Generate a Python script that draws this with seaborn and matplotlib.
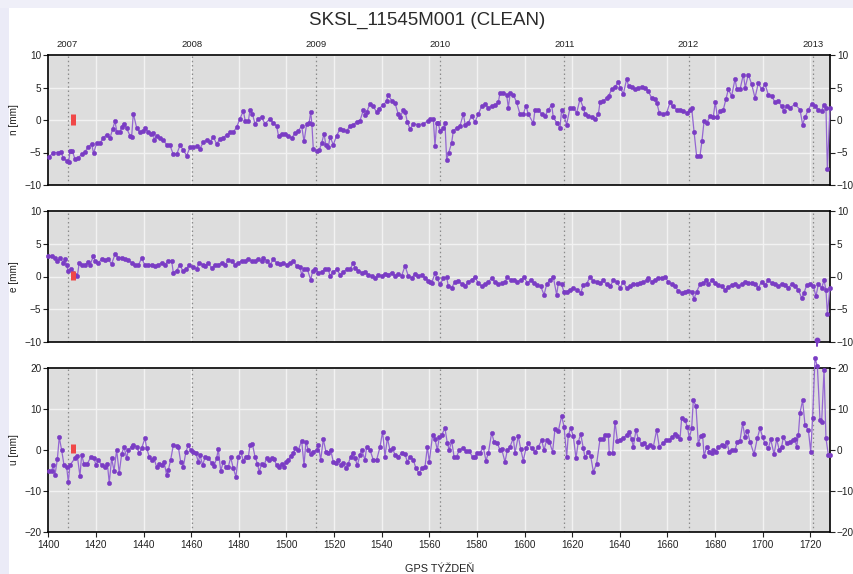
import numpy as np
import pandas as pd
import matplotlib
matplotlib.use("Agg")
import matplotlib.pyplot as plt
from matplotlib.patches import Rectangle
import seaborn as sns

# ---- station time series (GPS week, displacement in mm) ----
n_weeks = [1400.3, 1402.1, 1404.2, 1405.2, 1406.3, 1407.7, 1408.5, 1409.2, 1410.1, 1411.2, 1412.3, 1414.0,
           1415.4, 1416.8, 1418.2, 1419.0, 1420.3, 1421.7, 1423.1, 1424.5, 1425.9, 1427.0, 1428.0, 1428.8,
           1430.1, 1430.9, 1431.6, 1432.9, 1434.3, 1435.0, 1435.7, 1437.1, 1438.5, 1439.9, 1440.7, 1442.0,
           1443.0, 1444.1, 1444.5, 1445.5, 1446.9, 1448.3, 1449.7, 1451.1, 1452.5, 1453.9, 1455.3, 1456.7,
           1458.1, 1459.5, 1460.9, 1462.3, 1463.7, 1465.1, 1466.5, 1467.9, 1469.3, 1470.7, 1472.1, 1473.5,
           1474.9, 1476.3, 1477.7, 1479.1, 1480.5, 1481.9, 1482.7, 1484.0, 1484.7, 1485.7, 1486.8, 1488.2,
           1489.6, 1491.0, 1493.1, 1494.5, 1495.9, 1496.7, 1498.0, 1499.4, 1500.8, 1502.2, 1503.6, 1505.0,
           1506.4, 1507.4, 1508.5, 1509.5, 1510.2, 1510.7, 1511.3, 1512.7, 1513.8, 1514.8, 1515.8, 1516.6,
           1517.6, 1518.3, 1519.7, 1521.1, 1522.5, 1523.9, 1525.3, 1526.7, 1528.1, 1529.5, 1530.9, 1532.3,
           1533.0, 1533.7, 1535.1, 1536.5, 1537.9, 1538.7, 1540.7, 1542.1, 1542.7, 1544.2, 1545.6, 1547.0,
           1547.7, 1549.1, 1549.9, 1550.8, 1551.9, 1553.3, 1555.4, 1557.5, 1559.6, 1560.3, 1561.7, 1562.4,
           1563.1, 1563.8, 1564.5, 1565.9, 1566.6, 1567.3, 1568.1, 1569.4, 1570.1, 1571.5, 1572.9, 1574.3,
           1575.1, 1576.4, 1577.8, 1579.2, 1580.6, 1582.0, 1583.4, 1584.8, 1586.2, 1587.6, 1589.0, 1589.7,
           1591.1, 1592.5, 1593.2, 1594.0, 1595.3, 1596.7, 1598.1, 1599.5, 1600.6, 1601.6, 1603.7, 1604.4,
           1605.8, 1607.2, 1608.6, 1610.0, 1611.4, 1612.1, 1613.5, 1614.9, 1615.6, 1616.6, 1617.7, 1619.1,
           1620.5, 1621.9, 1623.3, 1624.7, 1625.4, 1626.8, 1628.2, 1629.6, 1631.0, 1631.7, 1633.1, 1634.5,
           1635.3, 1636.6, 1638.0, 1639.4, 1640.2, 1641.5, 1642.9, 1643.7, 1645.0, 1646.4, 1647.8, 1649.2,
           1650.6, 1652.0, 1653.4, 1654.8, 1655.6, 1656.6, 1658.0, 1659.7, 1661.1, 1662.2, 1663.9, 1665.3,
           1666.7, 1668.1, 1669.5, 1670.2, 1671.2, 1672.3, 1673.7, 1674.5, 1675.4, 1676.5, 1677.9, 1679.3,
           1680.1, 1681.0, 1682.1, 1683.5, 1684.6, 1685.6, 1687.0, 1688.4, 1689.2, 1690.5, 1691.9, 1692.7,
           1694.0, 1695.4, 1696.8, 1698.2, 1699.6, 1701.0, 1702.4, 1703.8, 1705.2, 1706.6, 1708.0, 1708.8,
           1710.1, 1711.5, 1713.6, 1715.7, 1716.8, 1717.8, 1719.2, 1720.6, 1722.0, 1723.4, 1724.8, 1725.6,
           1726.6, 1727.2, 1728.3]
n_mm = [-5.7, -5.0, -5.0, -4.9, -5.8, -6.3, -6.5, -4.7, -4.8, -6.0, -5.9, -5.3,
        -4.9, -4.1, -3.7, -5.1, -3.6, -3.6, -2.7, -2.3, -2.8, -1.4, -0.2, -1.8,
        -1.8, -1.0, -0.6, -1.3, -2.4, -2.6, 1.0, -1.2, -1.9, -1.7, -1.3, -1.9,
        -2.1, -2.0, -3.1, -2.4, -2.7, -3.1, -3.8, -3.9, -5.3, -5.3, -3.9, -4.6,
        -5.5, -4.2, -4.2, -4.0, -4.4, -3.4, -3.1, -3.4, -2.6, -3.7, -2.9, -2.7,
        -2.3, -1.9, -1.9, -1.1, 0.2, 1.4, -0.1, -0.2, 1.5, 1.0, -0.6, 0.2,
        0.4, -0.6, 0.2, -0.5, -0.9, -2.5, -2.1, -2.1, -2.4, -2.8, -2.0, -1.7,
        -0.9, -3.3, -0.6, -0.5, 1.2, -0.6, -4.5, -4.7, -4.6, -3.6, -2.1, -3.9,
        -4.2, -2.6, -3.8, -2.4, -1.4, -1.5, -1.7, -0.9, -0.7, -0.3, -0.1, 1.5,
        0.7, 1.2, 2.5, 2.1, 1.2, 1.7, 2.3, 2.9, 3.9, 3.0, 2.6, 0.9,
        0.4, 1.5, 1.2, -0.3, -1.4, -0.6, -0.7, -0.6, -0.1, 0.1, 0.2, -4.0,
        -0.4, -0.5, -1.7, -1.2, -0.5, -6.1, -5.1, -3.5, -1.7, -1.2, -0.9, 0.9,
        -0.7, -0.4, 0.6, -0.3, 0.9, 2.1, 2.4, 1.9, 2.1, 2.3, 2.7, 4.2,
        4.2, 3.9, 1.9, 4.1, 3.9, 2.7, 0.9, 0.9, 2.2, 0.9, -0.5, 1.6,
        1.6, 0.9, 0.6, 1.6, 2.3, 0.4, -0.4, -1.2, 1.6, 0.6, -0.7, 1.9,
        1.9, 1.1, 3.2, 1.9, 0.9, 0.6, 0.4, 0.1, 0.9, 2.7, 2.9, 3.4,
        3.7, 4.7, 5.1, 5.8, 5.0, 4.0, 6.3, 5.2, 5.1, 4.7, 5.0, 5.1,
        5.0, 4.4, 3.4, 3.2, 2.6, 1.1, 0.9, 1.1, 2.7, 2.1, 1.6, 1.6,
        1.4, 1.1, 1.6, 1.9, -1.8, -5.6, -5.5, -3.3, -0.2, -0.5, 0.6, 0.5,
        2.8, 0.4, 1.4, 1.6, 3.2, 4.7, 3.7, 6.3, 4.7, 4.7, 7.0, 5.0,
        7.0, 5.5, 3.4, 5.7, 4.7, 5.5, 3.9, 3.7, 2.7, 2.9, 2.1, 1.4,
        2.1, 1.9, 2.4, 1.6, -0.7, 0.4, 1.6, 2.5, 2.1, 1.6, 1.4, 2.3,
        1.9, -7.6, 1.9]

e_weeks = [1400.0, 1401.4, 1402.8, 1403.8, 1404.9, 1406.3, 1407.0, 1407.7, 1408.4, 1409.4, 1410.2, 1411.2,
           1412.2, 1413.0, 1414.0, 1415.4, 1416.8, 1417.5, 1418.9, 1419.6, 1421.0, 1422.4, 1423.8, 1425.2,
           1426.6, 1428.0, 1429.4, 1430.8, 1432.2, 1433.6, 1435.0, 1436.4, 1437.8, 1439.2, 1440.6, 1442.0,
           1443.4, 1444.8, 1446.2, 1447.6, 1449.0, 1450.4, 1451.8, 1452.5, 1453.9, 1455.3, 1456.4, 1457.8,
           1459.2, 1460.6, 1462.3, 1463.4, 1464.8, 1465.8, 1467.2, 1468.6, 1470.0, 1471.4, 1472.8, 1474.2,
           1475.6, 1477.0, 1478.4, 1479.8, 1481.2, 1482.6, 1484.0, 1485.4, 1486.8, 1488.2, 1489.6, 1490.3,
           1491.7, 1493.1, 1494.5, 1495.9, 1497.3, 1498.7, 1500.1, 1501.5, 1502.9, 1504.3, 1505.7, 1506.4,
           1507.4, 1508.8, 1510.2, 1511.0, 1512.0, 1513.4, 1514.8, 1516.2, 1517.6, 1518.3, 1519.7, 1521.1,
           1522.5, 1523.9, 1525.3, 1526.7, 1528.1, 1528.8, 1530.2, 1531.6, 1533.0, 1534.4, 1535.8, 1537.2,
           1538.6, 1540.0, 1541.4, 1542.8, 1544.2, 1545.6, 1547.0, 1548.4, 1549.8, 1551.2, 1552.6, 1554.0,
           1555.4, 1556.8, 1558.2, 1559.6, 1560.3, 1561.0, 1562.4, 1563.1, 1564.5, 1565.9, 1567.3, 1568.0,
           1569.4, 1570.8, 1572.2, 1573.6, 1575.0, 1576.4, 1577.8, 1579.2, 1580.6, 1582.0, 1583.4, 1584.8,
           1586.2, 1587.6, 1589.0, 1590.4, 1591.8, 1592.8, 1594.2, 1595.6, 1597.0, 1598.4, 1599.8, 1601.2,
           1602.6, 1604.0, 1605.4, 1606.8, 1608.2, 1609.3, 1610.7, 1612.1, 1613.5, 1614.2, 1615.6, 1616.6,
           1617.7, 1619.1, 1620.5, 1621.9, 1623.6, 1624.7, 1626.1, 1627.5, 1628.9, 1630.3, 1631.7, 1633.1,
           1634.5, 1635.9, 1637.3, 1638.7, 1640.1, 1641.5, 1642.9, 1644.3, 1645.7, 1647.1, 1648.5, 1649.9,
           1651.3, 1652.0, 1653.4, 1654.8, 1656.2, 1657.6, 1659.0, 1660.4, 1661.8, 1663.2, 1664.6, 1666.0,
           1667.4, 1668.8, 1670.2, 1671.2, 1672.3, 1673.7, 1675.1, 1676.2, 1677.2, 1678.6, 1680.0, 1681.4,
           1682.8, 1684.2, 1685.6, 1687.0, 1688.4, 1689.8, 1691.2, 1692.6, 1694.0, 1695.4, 1696.8, 1698.2,
           1699.6, 1701.0, 1702.4, 1703.8, 1705.2, 1706.6, 1708.0, 1709.4, 1710.8, 1712.2, 1713.6, 1715.0,
           1716.4, 1717.4, 1718.5, 1719.9, 1721.3, 1722.4, 1723.4, 1724.8, 1725.8, 1726.6, 1727.2, 1728.3]
e_mm = [3.1, 3.1, 2.9, 2.4, 2.9, 2.1, 2.6, 1.7, 0.8, 1.1, 0.6, 0.2,
        0.1, 2.1, 1.8, 1.8, 2.2, 1.7, 3.1, 2.4, 2.1, 2.6, 2.5, 2.6,
        1.9, 3.4, 2.9, 2.9, 2.6, 2.5, 2.1, 1.8, 1.7, 2.8, 1.7, 1.8,
        1.7, 1.6, 1.8, 2.1, 1.8, 2.4, 2.4, 0.6, 0.9, 1.8, 0.9, 1.1,
        1.7, 1.4, 1.2, 2.1, 1.8, 1.6, 2.1, 1.3, 1.8, 1.8, 2.1, 1.7,
        2.5, 2.4, 1.8, 2.1, 2.4, 2.4, 2.6, 2.4, 2.4, 2.6, 2.3, 2.9,
        2.4, 1.8, 2.6, 2.1, 1.9, 2.1, 1.8, 2.1, 2.4, 1.6, 1.4, 0.3,
        1.1, 1.1, -0.5, 0.8, 1.1, 0.6, 0.7, 1.2, 1.1, 0.1, 0.7, 1.1,
        0.3, 0.7, 1.1, 1.1, 2.1, 1.3, 0.9, 0.6, 0.7, 0.3, 0.1, -0.2,
        0.3, 0.1, 0.4, 0.3, 0.6, 0.1, 0.4, 0.1, 1.6, 0.1, -0.2, 0.4,
        0.1, 0.3, -0.2, -0.7, -0.8, -1.0, 0.5, -0.2, -1.2, -0.3, -0.1, -1.5,
        -1.7, -0.8, -0.7, -1.1, -1.5, -0.8, -0.5, -0.1, -1.0, -1.5, -1.2, -0.8,
        -0.3, -0.8, -1.2, -1.0, -0.8, -0.1, -0.5, -0.5, -0.8, -0.5, -0.1, -1.0,
        -0.6, -1.0, -1.3, -1.5, -2.8, -1.2, -0.5, -0.1, -2.8, -1.0, -1.2, -2.4,
        -2.3, -2.0, -1.8, -2.0, -2.5, -1.3, -1.1, -0.1, -0.7, -0.8, -1.0, -0.6,
        -1.2, -1.5, -0.6, -0.8, -1.7, -0.8, -1.8, -1.5, -1.1, -1.1, -1.0, -0.8,
        -0.6, -0.2, -0.8, -0.5, -0.3, -0.2, -0.1, -0.8, -1.2, -1.5, -2.2, -2.5,
        -2.3, -2.2, -2.3, -3.4, -2.3, -1.2, -1.0, -0.5, -1.2, -0.6, -1.0, -1.3,
        -1.5, -2.0, -1.6, -1.3, -1.2, -1.5, -1.2, -0.8, -1.0, -1.0, -1.1, -1.7,
        -0.8, -1.3, -0.6, -1.0, -1.2, -1.5, -1.1, -1.3, -1.7, -1.2, -1.5, -2.0,
        -3.3, -2.5, -1.3, -1.2, -1.5, -3.0, -1.2, -1.7, -0.6, -2.0, -5.7, -1.7]
# isolated outlier below the e axis range
e_out_weeks = [1722.7, 1722.7]
e_out_mm = [-9.7, -10.6]

u_weeks = [1400.4, 1401.4, 1402.1, 1402.8, 1403.8, 1404.6, 1405.6, 1406.6, 1407.7, 1408.4, 1409.1, 1411.2,
           1412.2, 1413.3, 1414.0, 1415.0, 1416.4, 1417.8, 1419.2, 1420.0, 1421.0, 1422.4, 1423.8, 1424.8,
           1425.6, 1426.6, 1427.6, 1428.7, 1429.8, 1430.8, 1431.8, 1432.9, 1433.6, 1435.0, 1435.7, 1437.1,
           1438.2, 1439.2, 1440.6, 1441.3, 1442.4, 1443.4, 1444.4, 1445.5, 1446.6, 1447.6, 1448.6, 1449.7,
           1450.4, 1451.4, 1452.5, 1453.9, 1454.6, 1455.6, 1456.7, 1457.8, 1458.8, 1459.8, 1460.9, 1462.0,
           1463.0, 1463.7, 1464.8, 1465.8, 1467.2, 1468.6, 1469.6, 1470.7, 1471.4, 1472.4, 1473.5, 1474.6,
           1475.6, 1476.6, 1477.7, 1478.8, 1479.8, 1480.8, 1481.9, 1483.0, 1484.0, 1484.7, 1485.7, 1486.8,
           1487.8, 1488.6, 1489.6, 1490.6, 1491.7, 1492.8, 1493.8, 1494.8, 1495.9, 1497.0, 1498.0, 1499.0,
           1499.8, 1500.8, 1501.8, 1502.9, 1503.6, 1505.0, 1506.4, 1507.4, 1508.2, 1509.2, 1510.2, 1511.3,
           1512.7, 1513.4, 1514.4, 1515.5, 1516.6, 1517.6, 1518.6, 1519.7, 1520.8, 1521.8, 1522.8, 1523.9,
           1525.0, 1526.0, 1527.0, 1527.8, 1528.8, 1529.8, 1530.9, 1531.6, 1533.0, 1533.7, 1535.1, 1536.5,
           1537.9, 1539.3, 1540.4, 1541.4, 1542.4, 1543.5, 1544.6, 1545.6, 1547.0, 1548.4, 1549.8, 1550.8,
           1551.9, 1553.3, 1554.4, 1555.8, 1556.8, 1558.2, 1559.2, 1560.0, 1561.4, 1562.4, 1563.4, 1564.2,
           1565.2, 1566.6, 1567.6, 1568.4, 1569.4, 1570.4, 1571.5, 1572.6, 1574.0, 1575.4, 1576.8, 1578.2,
           1579.2, 1580.2, 1581.3, 1582.7, 1583.8, 1584.8, 1586.2, 1587.2, 1588.6, 1589.7, 1590.4, 1591.8,
           1592.8, 1593.9, 1595.3, 1596.0, 1597.4, 1598.4, 1599.5, 1600.6, 1601.6, 1603.0, 1604.4, 1605.8,
           1607.2, 1608.2, 1609.3, 1610.4, 1611.8, 1612.8, 1614.2, 1615.6, 1616.6, 1617.7, 1618.4, 1619.4,
           1620.5, 1621.6, 1622.6, 1623.6, 1624.7, 1625.4, 1626.8, 1627.8, 1628.9, 1630.3, 1631.7, 1632.8,
           1633.8, 1635.2, 1635.6, 1637.0, 1638.0, 1639.0, 1640.1, 1641.5, 1642.9, 1644.0, 1645.0, 1645.7,
           1646.8, 1647.8, 1649.2, 1650.2, 1651.6, 1652.7, 1654.1, 1655.5, 1656.6, 1658.0, 1659.4, 1660.8,
           1661.8, 1663.2, 1664.2, 1665.3, 1666.0, 1667.4, 1668.4, 1669.2, 1670.2, 1670.9, 1672.0, 1673.0,
           1674.0, 1674.8, 1675.4, 1676.5, 1677.6, 1678.6, 1679.3, 1680.4, 1681.4, 1682.8, 1683.8, 1684.9,
           1686.0, 1687.0, 1688.4, 1689.4, 1690.5, 1691.6, 1692.6, 1693.6, 1694.7, 1696.4, 1697.8, 1698.9,
           1700.0, 1701.0, 1702.4, 1703.4, 1704.8, 1705.9, 1707.0, 1708.0, 1708.7, 1710.1, 1711.5, 1712.6,
           1713.6, 1714.3, 1715.0, 1715.7, 1716.8, 1717.8, 1719.2, 1720.2, 1721.0, 1722.0, 1723.0, 1724.1,
           1724.8, 1725.8, 1726.6, 1727.6, 1728.3]
u_mm = [-5.1, -5.1, -3.7, -6.1, -2.3, 3.1, 0.0, -3.7, -4.1, -7.8, -3.7, -2.0,
        -1.5, -6.4, -1.2, -3.4, -3.3, -1.8, -2.0, -3.7, -2.4, -3.7, -4.1, -3.3,
        -8.0, -2.0, -5.1, 0.0, -5.6, -1.0, 0.8, -2.0, 0.0, 0.8, 1.2, 0.8,
        -0.8, 0.4, 2.9, 0.4, -1.6, -2.4, -2.0, -4.2, -3.3, -3.7, -2.9, -6.1,
        -4.9, -2.4, 1.2, 1.0, 0.8, -2.9, -4.1, -0.4, 1.2, 0.0, -0.4, -0.8,
        -2.9, -1.2, -3.7, -1.8, -2.0, -3.1, -3.9, -2.0, 0.2, -5.1, -2.9, -4.1,
        -4.1, -1.8, -4.5, -6.5, -1.6, -0.4, -2.6, -1.6, -1.8, 1.2, 1.5, -1.6,
        -3.3, -5.3, -3.4, -3.7, -2.0, -2.4, -2.0, -2.3, -3.7, -4.1, -3.3, -4.2,
        -2.9, -2.4, -1.5, -0.8, 0.4, 0.0, 2.3, -3.7, 2.0, 0.0, -1.0, -0.4,
        0.0, 1.2, -2.4, 2.6, -0.4, -0.8, 0.0, -2.9, -3.1, -2.4, -3.7, -3.1,
        -4.5, -3.3, -1.6, -0.8, -2.0, -3.7, -1.2, 0.0, -2.4, 0.8, 0.0, -2.4,
        -2.4, 0.7, 4.5, -1.6, 2.9, 0.0, 0.4, -1.2, -1.6, -0.8, -1.0, -2.9,
        -1.6, -2.4, -4.5, -5.7, -4.5, -4.1, 0.8, -2.9, 3.7, 2.6, 0.0, 3.1,
        3.7, 5.3, 1.6, 0.0, 2.3, -1.6, -1.6, 0.0, 0.4, -0.2, -0.2, -1.8,
        -1.6, -0.8, -0.7, 0.7, -2.6, -0.8, 4.2, 2.0, 1.6, 0.0, 0.2, -2.9,
        0.0, 0.8, 2.9, -0.7, 3.4, 0.2, -2.6, 0.4, 1.6, 0.4, -0.4, 0.8,
        2.4, 0.0, 2.4, 2.0, -0.4, 5.1, 4.7, 8.3, 5.7, -1.6, 3.7, 5.3,
        3.4, -2.0, 2.0, 3.9, 0.4, -1.8, -0.4, -1.5, -5.3, -3.3, 2.6, 2.6,
        3.7, 3.7, -0.8, -0.8, 6.9, 2.3, 2.4, 2.9, 3.7, 4.5, 2.6, 0.7,
        4.9, 2.6, 1.5, 1.6, 0.8, 1.2, 0.8, 4.9, 0.8, 1.6, 2.4, 2.4,
        3.1, 3.9, 3.4, 2.6, 7.8, 7.2, 5.7, 2.9, 5.3, 12.1, 10.8, 1.5,
        3.4, 3.7, -1.5, 0.8, -0.4, -0.8, 0.0, -0.4, 0.8, 1.2, 1.0, 2.0,
        -0.4, 0.0, 0.0, 2.0, 2.3, 6.5, 3.1, 4.7, 2.0, -1.0, 2.9, 5.3,
        3.1, 1.6, 0.4, 2.6, -1.0, 2.6, 0.0, 0.8, 3.1, 1.6, 2.0, 2.4,
        2.6, 0.7, 3.7, 9.1, 12.1, 6.1, 4.9, -0.4, 7.8, 22.4, 20.4, 7.3,
        6.9, 19.6, 2.9, -1.2, -1.2]

# equipment change marker (week, lower / upper extent per component)
event_week = 1410.4
event_n = [-0.7, 0.85]
event_e = [-0.5, 0.9]
event_u = [-0.8, 1.4]

# calendar year boundaries expressed in GPS weeks
year_labels = ["2007", "2008", "2009", "2010", "2011", "2012", "2013"]
year_weeks = [1408.1, 1460.3, 1512.4, 1564.6, 1616.7, 1668.9, 1721.1]

week_ticks = list(range(1400, 1721, 20))

panels = [
    ("n [mm]", n_weeks, n_mm, event_n, (-10, 10), [-10, -5, 0, 5, 10]),
    ("e [mm]", e_weeks, e_mm, event_e, (-10, 10), [-10, -5, 0, 5, 10]),
    ("u [mm]", u_weeks, u_mm, event_u, (-20, 20), [-20, -10, 0, 10, 20]),
]

sns.set_style("white")
plt.rcParams["font.family"] = ["Liberation Sans", "DejaVu Sans"]

PURPLE = "#7a3cc4"
LINE = "#9466d2"
TICK_FS = 7.2

fig = plt.figure(figsize=(8.54, 5.74), dpi=100)
fig.patch.set_facecolor("white")
# pale band along the top and left page edges
fig.add_artist(Rectangle((0, 0), 9 / 854, 1, transform=fig.transFigure,
                         facecolor="#ebebf7", edgecolor="none", zorder=0))
fig.add_artist(Rectangle((0, 1 - 8 / 574), 1, 8 / 574, transform=fig.transFigure,
                         facecolor="#efeff8", edgecolor="none", zorder=0))

W = 854.0
H = 574.0
left, right = 48.3, 830.0
boxes = [(55, 185), (211, 342), (368, 532)]

axes = []
for i, ((label, wk, val, ev, ylim, yt), (top, bot)) in enumerate(zip(panels, boxes)):
    ax = fig.add_axes([left / W, 1 - bot / H, (right - left) / W, (bot - top) / H])
    ax.set_facecolor("#dddddd")
    ax.set_xlim(1400, 1728.3)
    ax.set_ylim(*ylim)
    ax.set_xticks(week_ticks)
    ax.set_yticks(yt)
    ax.grid(True, color="#f2f2f2", linewidth=1.0, zorder=0)
    ax.set_axisbelow(True)

    for yw in year_weeks:
        ax.axvline(yw, color="#8a8a8a", linestyle=(0, (1.2, 2.2)), linewidth=0.9, zorder=1)

    df = pd.DataFrame({"week": wk, "mm": val})
    sns.lineplot(data=df, x="week", y="mm", ax=ax, estimator=None, sort=False,
                 color=LINE, linewidth=0.9, marker="o", markersize=3.2,
                 markerfacecolor=PURPLE, markeredgecolor=PURPLE, markeredgewidth=0.3,
                 zorder=3)
    ax.lines[-1].set_clip_on(False)

    ax.vlines(event_week, ev[0], ev[1], color="#f04848", linewidth=3.6, zorder=4)

    if i == 1:
        ax.plot(e_out_weeks, e_out_mm, color=PURPLE, linewidth=1.4, marker="o",
                markersize=3.2, markevery=[0], clip_on=False, zorder=3)

    for s in ax.spines.values():
        s.set_color("black")
        s.set_linewidth(1.2)

    ax.tick_params(axis="y", which="both", left=True, right=True, labelleft=True,
                   labelright=True, direction="out", length=3.5, width=0.8,
                   labelsize=TICK_FS, colors="#222222", pad=1.5)
    if i == 2:
        ax.tick_params(axis="x", bottom=True, direction="out", length=3.5, width=0.8,
                       labelsize=TICK_FS, colors="#222222", pad=2)
        ax.set_xticklabels([str(t) for t in week_ticks])
        ax.set_xlabel("GPS TÝŽDEŇ", fontsize=7.8, color="#222222", labelpad=10)
    else:
        ax.tick_params(axis="x", bottom=False, labelbottom=False)
        ax.set_xlabel("")
    ax.set_ylabel(label, fontsize=7.2, color="#222222", labelpad=4)
    axes.append(ax)

# year labels above the first panel
top_ax = axes[0].secondary_xaxis("top")
top_ax.set_xticks(year_weeks)
top_ax.set_xticklabels(year_labels)
top_ax.tick_params(length=0, labelsize=6.8, colors="#222222", pad=4)
top_ax.spines["top"].set_visible(False)

fig.text(0.5, 1 - 20 / H, "SKSL_11545M001 (CLEAN)", ha="center", va="center",
         fontsize=13.5, color="#2a2a2a")

fig.savefig("out.png", dpi=100, facecolor=fig.get_facecolor())
